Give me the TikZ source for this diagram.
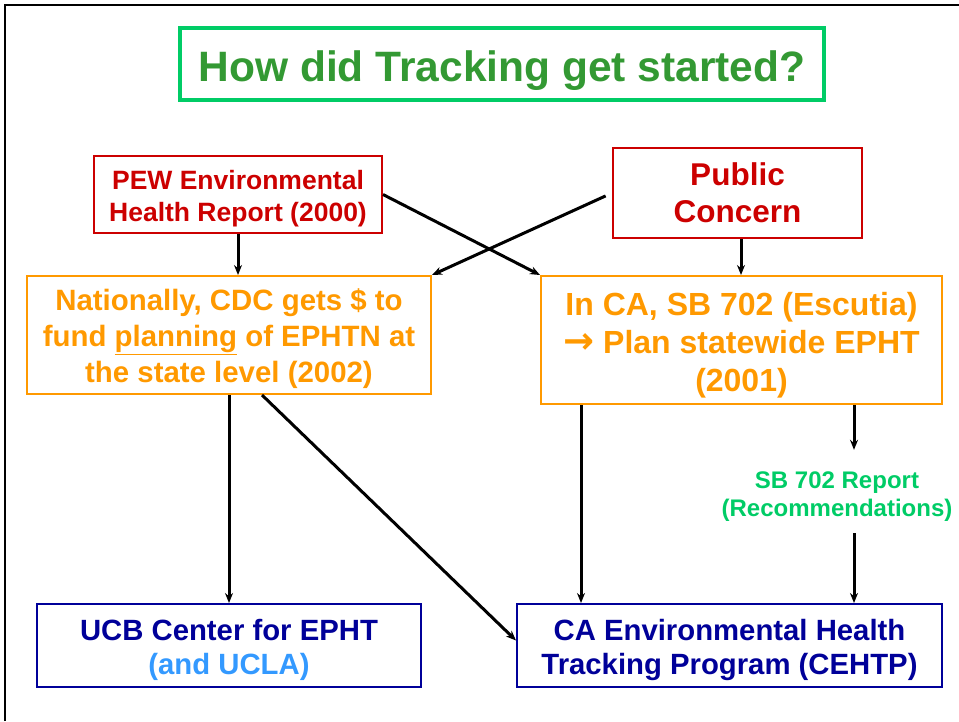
\documentclass[tikz,border=0pt]{standalone}
\usepackage{fontspec}
\setmainfont{Liberation Sans}
\usepackage{tikz}
\usetikzlibrary{positioning}
\usetikzlibrary{arrows.meta}
\usetikzlibrary{calc}
\newfontfamily\arrowfont{DejaVu Sans}
\definecolor{titlegreen}{HTML}{339933}
\definecolor{framegreen}{HTML}{00CC66}
\definecolor{srcred}{HTML}{CC0000}
\definecolor{stageorange}{HTML}{FF9900}
\definecolor{outnavy}{HTML}{000099}
\definecolor{uclablue}{HTML}{3399FF}
\tikzstyle{flow} = [draw=black, -{Stealth[length=10pt, width=8pt]}, line width=3pt]
\newcommand{\lowr}{\rule{0pt}{1.02em}}

\begin{document}
\begin{tikzpicture}[x=1pt, y=-1pt,
				every node/.style={font=\bfseries, align=center, inner sep=0pt},
				titlebox/.style={draw=framegreen, line width=4pt, text=titlegreen, font=\bfseries\fontsize{42.5}{50}\selectfont},
				source/.style={draw=srcred, line width=2pt, text=srcred},
				stage/.style={draw=stageorange, line width=2pt, text=stageorange, font=\bfseries\fontsize{29.4}{36}\selectfont},
				outcome/.style={draw=outnavy, line width=2pt, text=outnavy, font=\bfseries\fontsize{29.3}{34}\selectfont}]
				\useasboundingbox (0,0) rectangle (959,721);
				\draw[line width=2.5pt] (5,721) -- (5,5) -- (959,5);
				
				\node[titlebox, minimum width=644, minimum height=72](title) at (502,64) {\lowr How did Tracking get started?};
				
				\node[source, minimum width=288, minimum height=77, font=\bfseries\fontsize{26.5}{32}\selectfont](pew) at (238,194.5) {\lowr PEW Environmental\\Health Report (2000)};
				\node[source, minimum width=249, minimum height=90, font=\bfseries\fontsize{31.5}{37}\selectfont](public) at (737.5,193) {Public\\Concern};
				
				\node[stage, minimum width=404, minimum height=118](national) at (229,335) {\lowr Nationally, CDC gets \$ to\\fund \underline{planning} of EPHTN at\\the state level (2002)};
				\node[stage, minimum width=401, minimum height=128, font=\bfseries\fontsize{32}{38}\selectfont](inca) at (741.5,340) {\lowr In CA, SB 702 (Escutia)\\{\arrowfont\bfseries\fontsize{37}{38}\selectfont →} Plan statewide EPHT\\(2001)};
				
				\node[text=framegreen, minimum height=83, font=\bfseries\fontsize{24}{28}\selectfont](report) at (837,491.5) {\rule{0pt}{1.15em}SB 702 Report\\(Recommendations)};
				
				\node[outcome, minimum width=384, minimum height=83](ucb) at (229,645.5) {\lowr UCB Center for EPHT\\\textcolor{uclablue}{(and UCLA)}};
				\node[outcome, minimum width=425, minimum height=83](cehtp) at (729.5,645.5) {\lowr CA Environmental Health\\Tracking Program (CEHTP)};
				
				% sources to the two plans
				\path[flow] (pew.south) -- (pew.south |- national.north);
				\path[flow] (pew.east) -- (inca.north west);
				\path[flow, shorten <=7pt] (public.west) -- (national.north east);
				\path[flow] ([xshift=3.5]public.south) -- ([xshift=3.5]public.south |- inca.north);
				
				% plans to the programs
				\path[flow] (national.south) -- (ucb.north);
				\path[flow] ([xshift=33]national.south) -- ([yshift=5]cehtp.west);
				\path[flow] ([xshift=-160.5]inca.south) -- ([xshift=-160.5]inca.south |- cehtp.north);
				\path[flow] ([xshift=112.5]inca.south) -- ([xshift=17]report.north);
				\path[flow] ([xshift=17]report.south) -- ([xshift=17]report.south |- cehtp.north);
			\end{tikzpicture}
\end{document}
